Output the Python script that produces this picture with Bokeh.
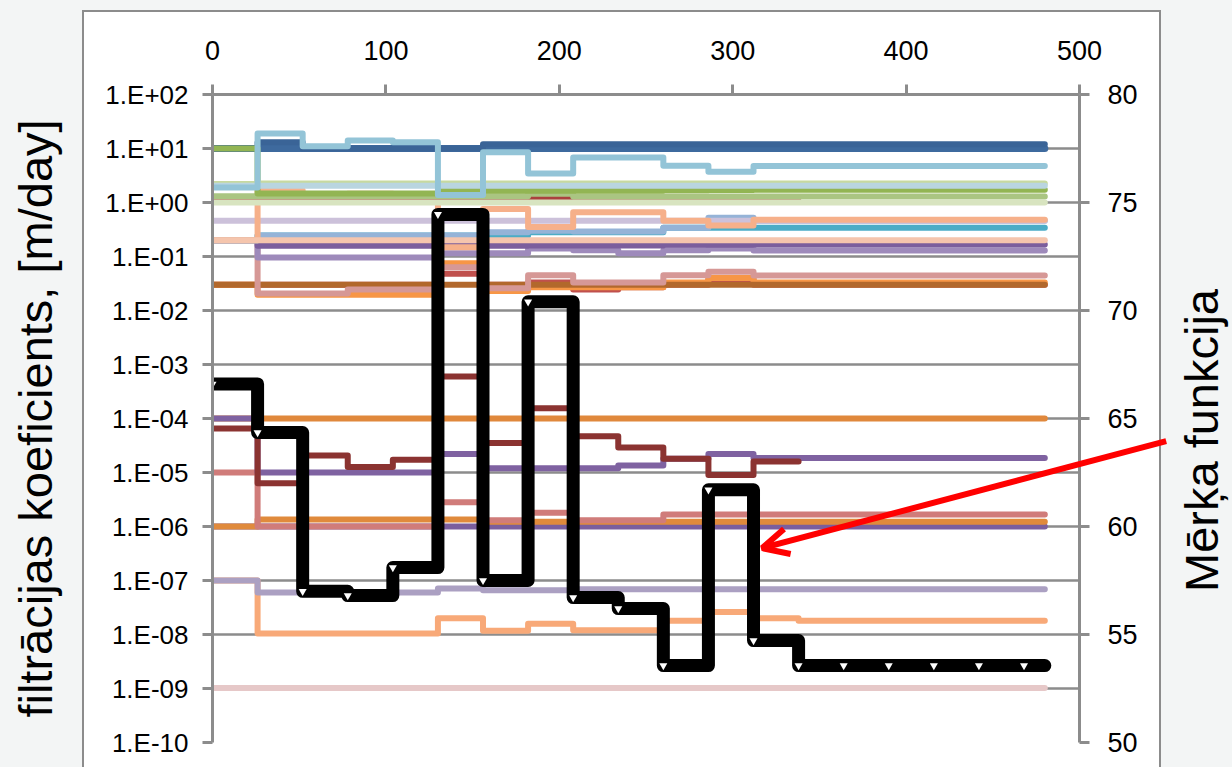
import math
from bokeh.plotting import figure
from bokeh.models import (Range1d, LinearAxis, LinearScale, FixedTicker, CustomJSTickFormatter,
                          Arrow, OpenHead)
from bokeh.core.properties import value
from bokeh.embed import file_html
from bokeh.resources import INLINE

# ---------------- data ----------------
cycle_starts = [0, 26, 52, 78, 104, 130, 156, 182, 208, 234, 260, 286, 312, 338]
last_iteration = 480

x_ticks = [0, 100, 200, 300, 400, 500]
left_ticks = [1e-10, 1e-9, 1e-8, 1e-7, 1e-6, 1e-5, 1e-4, 1e-3, 1e-2, 1e-1, 1e0, 1e1, 1e2]
right_ticks = [50, 55, 60, 65, 70, 75, 80]

objective = [66.6, 64.35, 57.0, 56.8, 58.1, 74.45, 57.5, 70.4, 56.71, 56.2, 53.56, 61.7, 54.72, 53.56]
marker_iterations = [0, 26, 52, 78, 104, 130, 156, 182, 208, 234, 260, 286, 312, 338, 364, 390, 416, 442, 468]

k_pale_pink = [1.02e-9, 1.02e-9, 1.02e-9, 1.02e-9, 1.02e-9, 1.02e-9, 1.02e-9, 1.02e-9, 1.02e-9, 1.02e-9, 1.02e-9, 1.02e-9, 1.02e-9, 1.02e-9]
k_light_orange = [1e-7, 1.04e-8, 1.04e-8, 1.04e-8, 1.04e-8, 2e-8, 1.17e-8, 1.58e-8, 1.2e-8, 1.2e-8, 1.8e-8, 2.6e-8, 2.0e-8, 1.8e-8]
k_lilac = [1e-7, 6.0e-8, 6.0e-8, 6.0e-8, 6.0e-8, 7.1e-8, 6.6e-8, 6.6e-8, 6.9e-8, 6.9e-8, 6.9e-8, 6.9e-8, 6.9e-8, 6.9e-8]
k_purple_low = [1e-6, 1e-6, 1e-6, 1e-6, 1e-6, 1e-6, 1e-6, 1e-6, 1e-6, 1e-6, 1e-6, 1e-6, 1e-6, 1e-6]
k_orange_low = [1e-6, 1.35e-6, 1.35e-6, 1.35e-6, 1.35e-6, 1.35e-6, 1.22e-6, 1.22e-6, 1.22e-6, 1.22e-6, 1.22e-6, 1.22e-6, 1.22e-6, 1.22e-6]
k_rose = [1e-5, 1e-6, 1e-6, 1e-6, 1e-6, 2.8e-6, 1.3e-6, 1.8e-6, 1.3e-6, 1.3e-6, 1.66e-6, 1.66e-6, 1.66e-6, 1.66e-6]
k_orange_mid = [1e-4, 1e-4, 1e-4, 1e-4, 1e-4, 1e-4, 1e-4, 1e-4, 1e-4, 1e-4, 1e-4, 1e-4, 1e-4, 1e-4]
k_purple_mid = [1e-4, 1e-5, 1e-5, 1e-5, 1e-5, 2.2e-5, 1.2e-5, 1.2e-5, 1.2e-5, 1.35e-5, 1.8e-5, 2.2e-5, 1.85e-5, 1.85e-5]
k_dark_red = [6.5e-5, 6.3e-6, 2.07e-5, 1.26e-5, 1.72e-5, 6.0e-4, 3.5e-5, 1.54e-4, 4.7e-5, 2.9e-5, 1.8e-5, 9e-6, 1.6e-5]
k_red_low = [0.03, 0.03, 0.03, 0.03, 0.03, 0.048, 0.03, 0.033, 0.0245, 0.027, 0.03, 0.038, 0.03, 0.03]
k_orange_high = [0.03, 0.0195, 0.0195, 0.0195, 0.0195, 0.075, 0.023, 0.027, 0.027, 0.027, 0.033, 0.04, 0.033, 0.033]
k_brown = [0.03, 0.03, 0.03, 0.03, 0.03, 0.03, 0.03, 0.03, 0.03, 0.03, 0.03, 0.03, 0.03, 0.03]
k_dusty_rose = [0.2, 0.0206, 0.0206, 0.0245, 0.0245, 0.063, 0.0257, 0.045, 0.033, 0.033, 0.045, 0.052, 0.0445, 0.0445]
k_light_purple = [0.2, 0.096, 0.096, 0.096, 0.096, 0.115, 0.115, 0.14, 0.13, 0.115, 0.13, 0.14, 0.129, 0.129]
k_purple_high = [0.2, 0.158, 0.158, 0.158, 0.158, 0.158, 0.158, 0.16, 0.16, 0.16, 0.165, 0.165, 0.167, 0.167]
k_aqua = [0.2, 0.245, 0.245, 0.245, 0.245, 0.245, 0.245, 0.28, 0.28, 0.28, 0.34, 0.34, 0.34, 0.34]
k_blue_grey = [0.2, 0.245, 0.245, 0.245, 0.245, 0.245, 0.28, 0.3, 0.29, 0.29, 0.34, 0.52, 0.46, 0.46]
k_lavender = [0.46, 0.46, 0.46, 0.46, 0.46, 0.46, 0.46, 0.46, 0.46, 0.46, 0.46, 0.46, 0.46, 0.46]
k_salmon = [0.2, 1.67, 1.26, 1.45, 1.26, 0.148, 0.76, 0.35, 0.66, 0.66, 0.46, 0.375, 0.48, 0.48]
k_pale_salmon = [0.2, 0.2, 0.2, 0.2, 0.2, 0.2, 0.2, 0.2, 0.2, 0.2, 0.2, 0.2, 0.2, 0.2]
k_red_high = [1.2, 1.22, 1.22, 1.24, 1.22, 1.18, 1.22, 1.24, 1.22, 1.24, 1.22, 1.24, 1.22]
k_light_green = [1.3, 1.3, 1.3, 1.3, 1.3, 1.3, 1.3, 1.45, 1.29, 1.29, 1.29, 1.29, 1.29, 1.29]
k_olive_green = [10.0, 1.47, 1.47, 1.47, 1.47, 1.65, 1.65, 1.65, 1.65, 1.65, 1.68, 1.7, 1.72, 1.72]
k_pale_green = [2.2, 2.25, 2.25, 2.25, 2.25, 2.25, 2.25, 2.25, 2.25, 2.25, 2.25, 2.25, 2.25, 2.25]
k_pale_blue = [2.05, 2.05, 2.05, 2.05, 2.05, 2.05, 2.05, 2.05, 2.05, 2.05, 2.05, 2.05, 2.05, 2.05]
k_sage = [1.0, 1.0, 1.0, 1.0, 1.0, 1.0, 1.0, 1.0, 1.0, 1.0, 1.0, 1.0, 1.0, 1.0]
k_dark_blue = [10.0, 10.0, 10.0, 10.0, 10.0, 10.0, 10.0, 10.0, 10.0, 10.0, 10.0, 10.0, 10.0, 10.0]
k_dark_blue2 = [10.0, 13.0, 10.0, 10.0, 10.0, 10.0, 12.0, 12.0, 12.0, 12.0, 12.0, 12.0, 12.0, 12.0]
k_light_blue = [1.9, 19.0, 11.0, 14.0, 13.0, 1.38, 8.5, 3.45, 6.8, 6.8, 4.8, 3.7, 4.75, 4.75]

# annotation arrow (x in iterations, y in objective units)
arrow_start = (550, 63.95)
arrow_end = (317, 59.0)

# ---------------- styles ----------------
series_styles = [
    (k_pale_pink, "#E6C8C8", 6),
    (k_light_orange, "#F8A978", 6),
    (k_lilac, "#ABA0C2", 6),
    (k_purple_low, "#7A5E9E", 6),
    (k_orange_low, "#E08A3C", 6),
    (k_rose, "#D07C7A", 6),
    (k_orange_mid, "#E0883C", 6),
    (k_purple_mid, "#7F62A1", 6),
    (k_dark_red, "#8B3331", 6),
    (k_red_low, "#C0504D", 6),
    (k_orange_high, "#F79646", 6),
    (k_brown, "#B2682C", 6),
    (k_dusty_rose, "#D69896", 6),
    (k_light_purple, "#9E8ABB", 6),
    (k_purple_high, "#7B5E9D", 6),
    (k_aqua, "#4BACC6", 6),
    (k_blue_grey, "#95B3D7", 6),
    (k_lavender, "#CCC1DA", 6),
    (k_salmon, "#F6B08A", 6),
    (k_pale_salmon, "#F5C5AD", 6),
    (k_red_high, "#AA423E", 6),
    (k_light_green, "#AAC582", 6),
    (k_dark_blue, "#3E6A9E", 7),
    (k_dark_blue2, "#3A6497", 6),
    (k_olive_green, "#92B553", 6),
    (k_pale_green, "#C7D9A0", 6),
    (k_pale_blue, "#B9D5E0", 6),
    (k_sage, "#D8E4C0", 6),
    (k_light_blue, "#93C4D7", 6),
]

AX = "#8C8C8C"
BG = "#F3F5F5"
FONT = "Liberation Sans"
W, H = 1232, 767
FRAME_L, FRAME_R, FRAME_T, FRAME_B = 212, 1079, 94, 742
BOX_L, BOX_R, BOX_T = 83, 1160, 11

page_css = {
    "background": (
        f"linear-gradient({AX},{AX}) {BOX_L - 1}px {BOX_T}px / 2px {H}px no-repeat, "
        f"linear-gradient({AX},{AX}) {BOX_R - 1}px {BOX_T}px / 2px {H}px no-repeat, "
        f"linear-gradient({AX},{AX}) {BOX_L - 1}px {BOX_T - 1}px / {BOX_R - BOX_L + 2}px 2px no-repeat, "
        f"linear-gradient(#FFFFFF,#FFFFFF) {BOX_L}px {BOX_T}px / {BOX_R - BOX_L}px {H}px no-repeat, "
        f"{BG}"
    )
}


def step_xy(values):
    n = len(values)
    xs = cycle_starts[:n]
    end = last_iteration if n == len(cycle_starts) else cycle_starts[n]
    return xs + [end], list(values) + [values[-1]]


p = figure(width=W, height=H, output_backend="svg", toolbar_location=None,
           y_axis_type="log", x_axis_location="above",
           x_range=Range1d(0, 500), y_range=Range1d(1e-10, 1e2),
           min_border_left=FRAME_L, min_border_right=W - FRAME_R,
           min_border_top=FRAME_T, min_border_bottom=H - FRAME_B,
           border_fill_color=None, background_fill_color="white", outline_line_color=None,
           styles=page_css)
p.extra_y_ranges = {"obj": Range1d(50, 80)}
p.extra_y_scales = {"obj": LinearScale()}

# top axis
xa = p.xaxis[0]
xa.ticker = FixedTicker(ticks=x_ticks)
xa.major_tick_out = 10
xa.major_tick_in = 0
xa.minor_tick_line_color = None
xa.axis_line_color = AX
xa.axis_line_width = 3
xa.major_tick_line_color = AX
xa.major_tick_line_width = 3
xa.major_label_text_font = FONT
xa.major_label_text_font_size = "27px"
xa.major_label_text_color = "black"
xa.major_label_standoff = 25

# left axis
ya = p.yaxis[0]
ya.ticker = FixedTicker(ticks=left_ticks)
ya.formatter = CustomJSTickFormatter(code="""
const e = Math.round(Math.log10(tick));
const a = Math.abs(e);
return '1.E' + (e < 0 ? '-' : '+') + (a < 10 ? '0' + a : '' + a);
""")
ya.major_tick_out = 10
ya.major_tick_in = 0
ya.minor_tick_line_color = None
ya.axis_line_color = AX
ya.axis_line_width = 3
ya.major_tick_line_color = AX
ya.major_tick_line_width = 3
ya.major_label_text_font = FONT
ya.major_label_text_font_size = "26px"
ya.major_label_text_color = "black"
ya.major_label_standoff = 14
ya.axis_label = "filtrācijas koeficients, [m/day]"
ya.axis_label_text_font = FONT
ya.axis_label_text_font_size = "47px"
ya.axis_label_text_font_style = "normal"
ya.axis_label_text_color = "black"
ya.axis_label_standoff = 40

p.xgrid.visible = False
p.ygrid.ticker = FixedTicker(ticks=left_ticks)
p.ygrid.grid_line_color = AX
p.ygrid.grid_line_width = 2.5
p.ygrid.minor_grid_line_color = None

# right axis
ra = LinearAxis(y_range_name="obj", ticker=FixedTicker(ticks=right_ticks))
ra.major_tick_out = 10
ra.major_tick_in = 0
ra.minor_tick_line_color = None
ra.axis_line_color = AX
ra.axis_line_width = 3
ra.major_tick_line_color = AX
ra.major_tick_line_width = 3
ra.major_label_text_font = FONT
ra.major_label_text_font_size = "27px"
ra.major_label_text_color = "black"
ra.major_label_standoff = 18
p.add_layout(ra, "right")

# parameter lines
for vals, color, w in series_styles:
    xs, ys = step_xy(vals)
    p.step(xs, ys, mode="after", line_color=color, line_width=w, line_join="round", line_cap="round")

# objective function
ox, oy = step_xy(objective)
p.step(ox, oy, mode="after", y_range_name="obj", line_color="black", line_width=13,
       line_join="round", line_cap="round")
marker_vals = [objective[min(i // 26, len(objective) - 1)] for i in marker_iterations]
p.scatter(marker_iterations, marker_vals, y_range_name="obj", marker="inverted_triangle",
          size=8, fill_color="white", line_color=None)

# ---------------- overlay (page pixel space) for the right title and the arrow ----------------
q = figure(width=W, height=H, output_backend="svg", toolbar_location=None,
           x_range=Range1d(0, W), y_range=Range1d(0, H),
           x_axis_location=None, y_axis_location=None,
           min_border=0, min_border_left=0, min_border_right=0, min_border_top=0, min_border_bottom=0,
           border_fill_color=None, background_fill_color=None, outline_line_color=None,
           styles={"position": "absolute", "left": "0px", "top": "0px"})
q.grid.visible = False


def to_page(x, y):
    # page x, and page y measured upward from the bottom of the page
    sx = FRAME_L + (x - 0) / (500 - 0) * (FRAME_R - FRAME_L)
    sy = H - (FRAME_T + (80 - y) / (80 - 50) * (FRAME_B - FRAME_T))
    return sx, sy


ax0, ay0 = to_page(*arrow_start)
ax1, ay1 = to_page(*arrow_end)
q.add_layout(Arrow(end=OpenHead(size=26, line_color="#FF0000", line_width=6),
                   x_start=ax0, y_start=ay0, x_end=ax1, y_end=ay1,
                   line_color="#FF0000", line_width=6))

q.text(x=[1201], y=[H - 440], text=["Mērķa funkcija"], angle=math.pi / 2,
       text_align="center", text_baseline="middle",
       text_font=value(FONT), text_font_size="47px", text_color="black")

open("out.html", "w").write(file_html([p, q], INLINE))
